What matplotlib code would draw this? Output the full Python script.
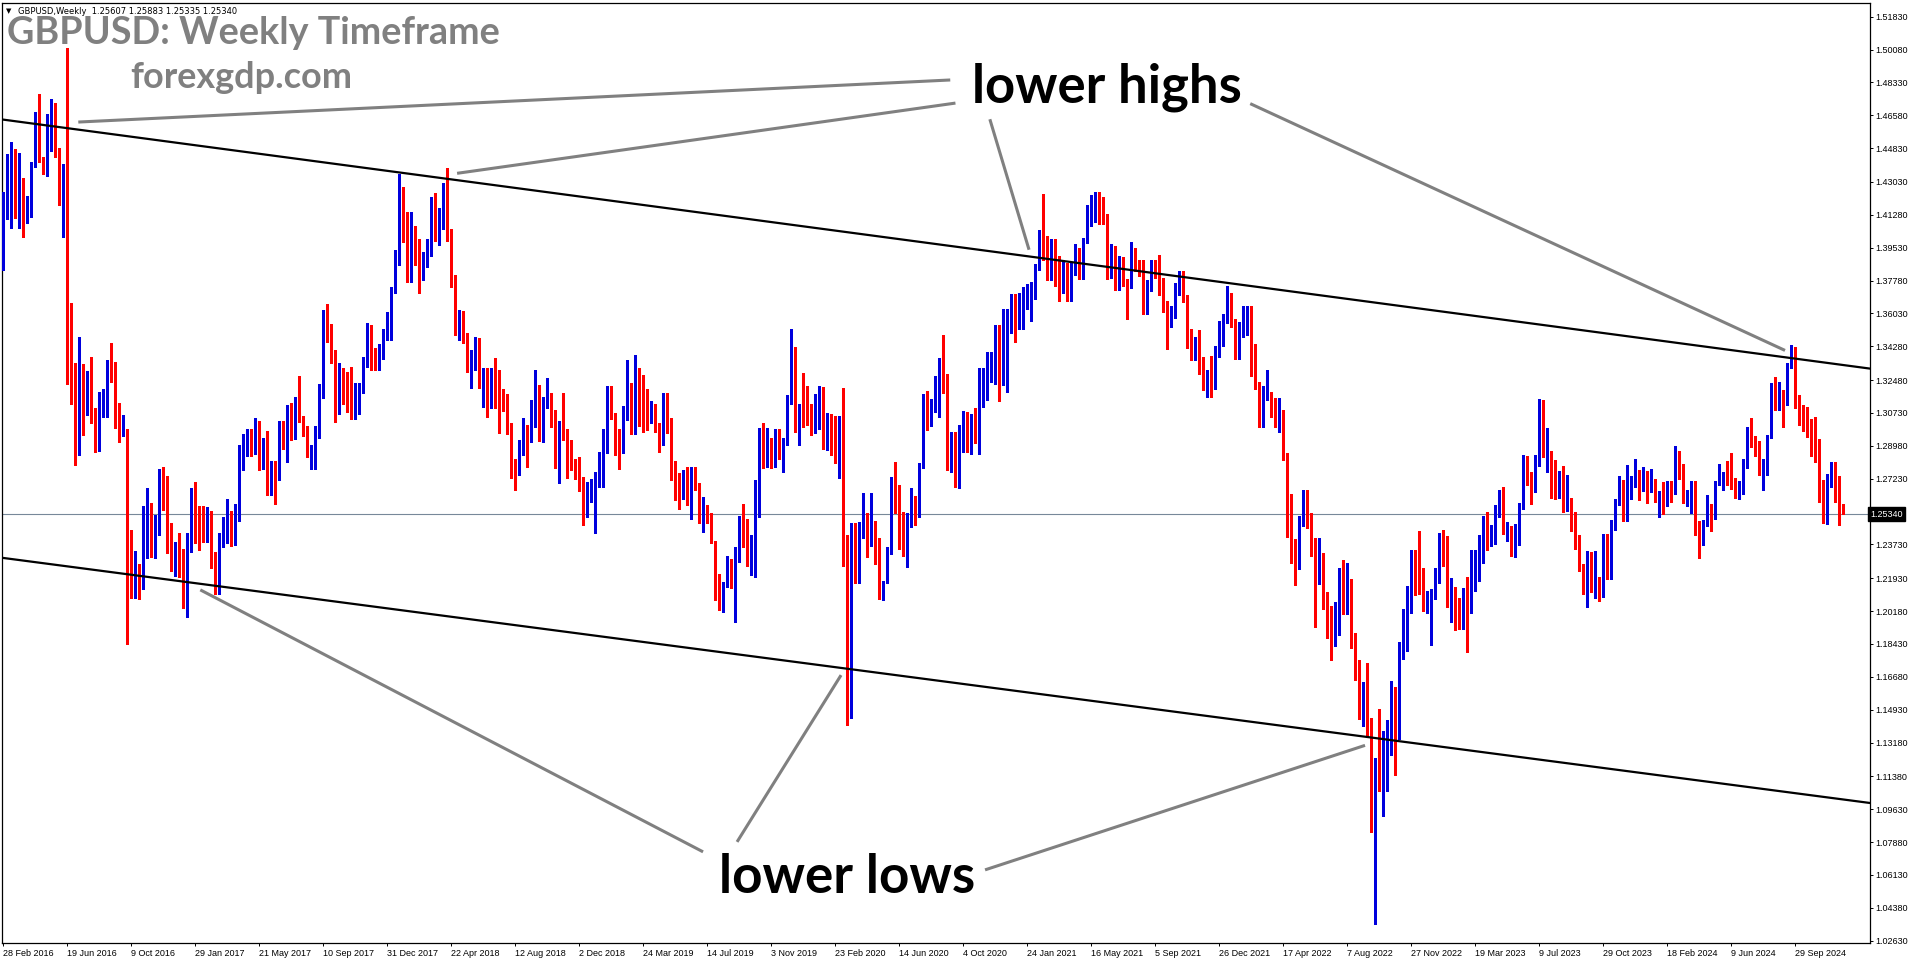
import matplotlib
matplotlib.use("Agg")
import matplotlib.pyplot as plt
import numpy as np

# ---- weekly GBPUSD candles, week of 28 Feb 2016 (index 0) to week of 22 Dec 2024 ----
first_open = 1.3875
closes = [
    1.4226, 1.4390, 1.4475, 1.4125, 1.4229, 1.4128, 1.4200, 1.4400, 1.4610, 1.4430, 1.4355, 1.4497, 1.4618, 1.4470, 1.4250, 1.4380,
    1.3660, 1.3270, 1.2940, 1.3185, 1.3107, 1.3225, 1.3062, 1.2920, 1.3080, 1.3125, 1.3288, 1.3260, 1.2997, 1.2965, 1.2985, 1.2425,
    1.2194, 1.2233, 1.2185, 1.2490, 1.2590, 1.2350, 1.2470, 1.2735, 1.2590, 1.2375, 1.2280, 1.2335, 1.2285, 1.2180, 1.2370, 1.2570,
    1.2490, 1.2480, 1.2410, 1.2550, 1.2290, 1.2195, 1.2395, 1.2475, 1.2550, 1.2405, 1.2535, 1.2800, 1.2950, 1.2965, 1.2885, 1.3030,
    1.2800, 1.2890, 1.2745, 1.2785, 1.2715, 1.3030, 1.2885, 1.3100, 1.3000, 1.3135, 1.3030, 1.3005, 1.2880, 1.2880, 1.2965, 1.3200,
    1.3590, 1.3500, 1.3399, 1.3071, 1.3290, 1.3190, 1.3130, 1.3071, 1.3195, 1.3221, 1.3337, 1.3479, 1.3385, 1.3340, 1.3363, 1.3505,
    1.3568, 1.3731, 1.3860, 1.4153, 1.4114, 1.3825, 1.4024, 1.3967, 1.3798, 1.3851, 1.3949, 1.4135, 1.4029, 1.4091, 1.4242, 1.4002,
    1.3781, 1.3532, 1.3541, 1.3470, 1.3301, 1.3355, 1.3408, 1.3213, 1.3266, 1.3204, 1.3284, 1.3239, 1.3133, 1.3106, 1.2999, 1.2769,
    1.2751, 1.2858, 1.2964, 1.2920, 1.3062, 1.3088, 1.3026, 1.3124, 1.3159, 1.3062, 1.2831, 1.2990, 1.2975, 1.2804, 1.2800, 1.2760,
    1.2733, 1.2582, 1.2640, 1.2698, 1.2725, 1.2840, 1.2875, 1.3204, 1.3075, 1.2937, 1.2884, 1.3062, 1.3213, 1.3018, 1.3301, 1.3210,
    1.3036, 1.3035, 1.3071, 1.2991, 1.2915, 1.3178, 1.3004, 1.2716, 1.2713, 1.2631, 1.2743, 1.2588, 1.2748, 1.2698, 1.2521, 1.2583,
    1.2503, 1.2382, 1.2157, 1.2027, 1.2152, 1.2294, 1.2166, 1.2290, 1.2507, 1.2471, 1.2294, 1.2338, 1.2654, 1.2968, 1.2787, 1.2938,
    1.2784, 1.2908, 1.2826, 1.2935, 1.3142, 1.3337, 1.2996, 1.3089, 1.3085, 1.3060, 1.3010, 1.3071, 1.3213, 1.2890, 1.3053, 1.2960,
    1.2814, 1.3053, 1.2272, 1.1643, 1.2459, 1.2240, 1.2450, 1.2500, 1.2365, 1.2500, 1.2400, 1.2099, 1.2170, 1.2347, 1.2677, 1.2539,
    1.2352, 1.2337, 1.2485, 1.2628, 1.2574, 1.2796, 1.3089, 1.3052, 1.3089, 1.3091, 1.3359, 1.3258, 1.2796, 1.2920, 1.2743, 1.2940,
    1.3053, 1.2911, 1.3048, 1.2947, 1.3151, 1.3199, 1.3293, 1.3305, 1.3440, 1.3222, 1.3523, 1.3536, 1.3662, 1.3565, 1.3589, 1.3683,
    1.3701, 1.3745, 1.3855, 1.3999, 1.3927, 1.3825, 1.3919, 1.3860, 1.3784, 1.3831, 1.3701, 1.3861, 1.3879, 1.3808, 1.3994, 1.4097,
    1.4154, 1.4193, 1.4153, 1.4104, 1.3793, 1.3884, 1.3838, 1.3902, 1.3763, 1.3745, 1.3902, 1.3873, 1.3866, 1.3625, 1.3763, 1.3855,
    1.3838, 1.3731, 1.3665, 1.3546, 1.3618, 1.3749, 1.3760, 1.3693, 1.3501, 1.3417, 1.3447, 1.3337, 1.3231, 1.3266, 1.3249, 1.3394,
    1.3547, 1.3594, 1.3683, 1.3554, 1.3394, 1.3529, 1.3559, 1.3598, 1.3408, 1.3231, 1.3039, 1.3181, 1.3186, 1.3115, 1.3039, 1.3065,
    1.2838, 1.2570, 1.2338, 1.2262, 1.2497, 1.2636, 1.2490, 1.2316, 1.2223, 1.2279, 1.2092, 1.2034, 1.1871, 1.2005, 1.2179, 1.2071,
    1.2142, 1.1832, 1.1740, 1.1512, 1.1593, 1.1425, 1.0849, 1.1165, 1.1100, 1.1175, 1.1300, 1.1614, 1.1375, 1.1838, 1.1881, 1.2093,
    1.2294, 1.2266, 1.2142, 1.2055, 1.2077, 1.2100, 1.2230, 1.2403, 1.2394, 1.2055, 1.2083, 1.2044, 1.1942, 1.2044, 1.2033, 1.2179,
    1.2229, 1.2327, 1.2418, 1.2413, 1.2440, 1.2570, 1.2636, 1.2446, 1.2446, 1.2344, 1.2451, 1.2583, 1.2827, 1.2718, 1.2696, 1.2844,
    1.3092, 1.2849, 1.2854, 1.2751, 1.2697, 1.2740, 1.2577, 1.2588, 1.2462, 1.2381, 1.2236, 1.2207, 1.2244, 1.2142, 1.2170, 1.2121,
    1.2379, 1.2228, 1.2468, 1.2610, 1.2716, 1.2530, 1.2677, 1.2702, 1.2730, 1.2716, 1.2755, 1.2702, 1.2708, 1.2636, 1.2638, 1.2601,
    1.2672, 1.2654, 1.2862, 1.2734, 1.2600, 1.2624, 1.2642, 1.2453, 1.2370, 1.2494, 1.2553, 1.2525, 1.2707, 1.2743, 1.2752, 1.2720,
    1.2685, 1.2637, 1.2645, 1.2819, 1.2991, 1.2915, 1.2867, 1.2745, 1.2765, 1.2950, 1.3221, 1.3128, 1.3137, 1.3125, 1.3323, 1.3364,
    1.3124, 1.3067, 1.3053, 1.2965, 1.2921, 1.2915, 1.2618, 1.2530, 1.2737, 1.2748, 1.2620, 1.2566, 1.25340,
]
highs = [
    1.4250, 1.4450, 1.4515, 1.4476, 1.4458, 1.4324, 1.4230, 1.4410, 1.4676, 1.4771, 1.4438, 1.4667, 1.4743, 1.4724, 1.4486, 1.4400,
    1.5018, 1.3535, 1.3340, 1.3480, 1.3335, 1.3297, 1.3372, 1.3098, 1.3185, 1.3200, 1.3355, 1.3445, 1.3345, 1.3126, 1.3060, 1.2946,
    1.2452, 1.2337, 1.2270, 1.2575, 1.2674, 1.2594, 1.2527, 1.2775, 1.2784, 1.2737, 1.2489, 1.2385, 1.2432, 1.2348, 1.2433, 1.2675,
    1.2705, 1.2580, 1.2580, 1.2570, 1.2550, 1.2330, 1.2432, 1.2520, 1.2615, 1.2545, 1.2590, 1.2905, 1.2960, 1.2990, 1.2990, 1.3048,
    1.3030, 1.2940, 1.2975, 1.2815, 1.2815, 1.3030, 1.3030, 1.3115, 1.3125, 1.3160, 1.3270, 1.3055, 1.3000, 1.2905, 1.3005, 1.3225,
    1.3620, 1.3655, 1.3545, 1.3408, 1.3340, 1.3310, 1.3290, 1.3320, 1.3230, 1.3230, 1.3372, 1.3550, 1.3541, 1.3420, 1.3440, 1.3520,
    1.3612, 1.3745, 1.3940, 1.4345, 1.4277, 1.4144, 1.4144, 1.4070, 1.4000, 1.3930, 1.4000, 1.4224, 1.4245, 1.4165, 1.4299, 1.4377,
    1.4050, 1.3805, 1.3621, 1.3615, 1.3500, 1.3410, 1.3479, 1.3470, 1.3310, 1.3310, 1.3315, 1.3363, 1.3300, 1.3200, 1.3175, 1.3020,
    1.2830, 1.2930, 1.3044, 1.3010, 1.3140, 1.3301, 1.3220, 1.3160, 1.3257, 1.3180, 1.3090, 1.3030, 1.3177, 1.2990, 1.2930, 1.2830,
    1.2840, 1.2730, 1.2705, 1.2720, 1.2760, 1.2865, 1.2990, 1.3217, 1.3215, 1.3075, 1.2990, 1.3110, 1.3355, 1.3230, 1.3380, 1.3310,
    1.3275, 1.3199, 1.3138, 1.3121, 1.3021, 1.3180, 1.3174, 1.3044, 1.2819, 1.2755, 1.2769, 1.2784, 1.2787, 1.2787, 1.2700, 1.2624,
    1.2578, 1.2538, 1.2393, 1.2216, 1.2175, 1.2311, 1.2290, 1.2361, 1.2525, 1.2588, 1.2507, 1.2423, 1.2716, 1.2991, 1.3018, 1.2991,
    1.2938, 1.2986, 1.2986, 1.2938, 1.3168, 1.3520, 1.3426, 1.3121, 1.3285, 1.3217, 1.3121, 1.3174, 1.3215, 1.3210, 1.3071, 1.3070,
    1.3057, 1.3055, 1.3205, 1.2423, 1.2486, 1.2486, 1.2490, 1.2649, 1.2539, 1.2649, 1.2500, 1.2405, 1.2180, 1.2360, 1.2734, 1.2813,
    1.2689, 1.2548, 1.2539, 1.2672, 1.2631, 1.2805, 1.3174, 1.3192, 1.3145, 1.3270, 1.3365, 1.3488, 1.3280, 1.2974, 1.2974, 1.3010,
    1.3085, 1.3080, 1.3065, 1.3100, 1.3315, 1.3313, 1.3400, 1.3395, 1.3540, 1.3540, 1.3625, 1.3625, 1.3705, 1.3705, 1.3710, 1.3745,
    1.3760, 1.3770, 1.3865, 1.4047, 1.4239, 1.4015, 1.4000, 1.4000, 1.3910, 1.3890, 1.3870, 1.3870, 1.3975, 1.3950, 1.4005, 1.4180,
    1.4235, 1.4249, 1.4250, 1.4225, 1.4135, 1.3975, 1.3960, 1.3910, 1.3905, 1.3785, 1.3985, 1.3950, 1.3890, 1.3890, 1.3780, 1.3890,
    1.3890, 1.3915, 1.3790, 1.3670, 1.3640, 1.3765, 1.3830, 1.3830, 1.3700, 1.3520, 1.3480, 1.3515, 1.3370, 1.3300, 1.3375, 1.3430,
    1.3560, 1.3600, 1.3749, 1.3710, 1.3575, 1.3555, 1.3640, 1.3645, 1.3640, 1.3440, 1.3240, 1.3215, 1.3300, 1.3185, 1.3150, 1.3150,
    1.3090, 1.2860, 1.2640, 1.2400, 1.2525, 1.2665, 1.2665, 1.2540, 1.2405, 1.2405, 1.2325, 1.2120, 1.2045, 1.2065, 1.2245, 1.2290,
    1.2275, 1.2190, 1.1900, 1.1760, 1.1640, 1.1740, 1.1450, 1.1235, 1.1495, 1.1380, 1.1440, 1.1645, 1.1565, 1.1855, 1.2030, 1.2150,
    1.2345, 1.2345, 1.2445, 1.2245, 1.2125, 1.2135, 1.2250, 1.2435, 1.2450, 1.2420, 1.2195, 1.2145, 1.2085, 1.2140, 1.2200, 1.2345,
    1.2345, 1.2425, 1.2525, 1.2545, 1.2475, 1.2585, 1.2665, 1.2680, 1.2490, 1.2470, 1.2480, 1.2595, 1.2850, 1.2845, 1.2760, 1.2850,
    1.3145, 1.3140, 1.2995, 1.2870, 1.2820, 1.2765, 1.2790, 1.2745, 1.2620, 1.2545, 1.2425, 1.2270, 1.2340, 1.2335, 1.2340, 1.2200,
    1.2430, 1.2430, 1.2505, 1.2615, 1.2735, 1.2710, 1.2795, 1.2735, 1.2828, 1.2770, 1.2785, 1.2765, 1.2775, 1.2720, 1.2660, 1.2705,
    1.2710, 1.2710, 1.2895, 1.2870, 1.2800, 1.2665, 1.2710, 1.2710, 1.2500, 1.2505, 1.2635, 1.2590, 1.2710, 1.2800, 1.2760, 1.2815,
    1.2860, 1.2725, 1.2710, 1.2830, 1.3000, 1.3045, 1.2950, 1.2925, 1.2830, 1.2955, 1.3230, 1.3265, 1.3240, 1.3195, 1.3340, 1.3434,
    1.3423, 1.3170, 1.3115, 1.3105, 1.3040, 1.3050, 1.2935, 1.2715, 1.2750, 1.2812, 1.2810, 1.2735, 1.25883,
]
lows = [
    1.3836, 1.4105, 1.4058, 1.4110, 1.4058, 1.4011, 1.4087, 1.4115, 1.4381, 1.4410, 1.4343, 1.4334, 1.4467, 1.4438, 1.4182, 1.4011,
    1.3229, 1.3120, 1.2798, 1.2850, 1.2955, 1.3060, 1.3020, 1.2866, 1.2870, 1.3050, 1.3050, 1.3240, 1.2993, 1.2917, 1.2950, 1.1841,
    1.2085, 1.2090, 1.2080, 1.2137, 1.2300, 1.2308, 1.2300, 1.2423, 1.2556, 1.2327, 1.2233, 1.2204, 1.2200, 1.2035, 1.1986, 1.2330,
    1.2380, 1.2345, 1.2385, 1.2385, 1.2250, 1.2110, 1.2110, 1.2360, 1.2380, 1.2365, 1.2370, 1.2500, 1.2770, 1.2845, 1.2845, 1.2855,
    1.2770, 1.2775, 1.2635, 1.2635, 1.2590, 1.2730, 1.2880, 1.2810, 1.2930, 1.2935, 1.3025, 1.2950, 1.2840, 1.2775, 1.2775, 1.2940,
    1.3155, 1.3450, 1.3340, 1.3026, 1.3070, 1.3120, 1.3080, 1.3040, 1.3040, 1.3065, 1.3180, 1.3320, 1.3300, 1.3300, 1.3301, 1.3360,
    1.3460, 1.3460, 1.3710, 1.3860, 1.3985, 1.3772, 1.3770, 1.3860, 1.3712, 1.3780, 1.3900, 1.3910, 1.3990, 1.3965, 1.4050, 1.3990,
    1.3745, 1.3488, 1.3461, 1.3445, 1.3293, 1.3204, 1.3300, 1.3205, 1.3106, 1.3053, 1.3100, 1.3100, 1.2964, 1.3085, 1.2960, 1.2725,
    1.2662, 1.2740, 1.2850, 1.2785, 1.2920, 1.3000, 1.2925, 1.2920, 1.3100, 1.3000, 1.2778, 1.2698, 1.2930, 1.2725, 1.2770, 1.2720,
    1.2660, 1.2476, 1.2520, 1.2600, 1.2432, 1.2680, 1.2680, 1.2860, 1.3040, 1.2850, 1.2772, 1.2860, 1.3035, 1.2960, 1.2960, 1.3005,
    1.2973, 1.2982, 1.3018, 1.2973, 1.2867, 1.2902, 1.2968, 1.2716, 1.2610, 1.2560, 1.2613, 1.2583, 1.2507, 1.2663, 1.2485, 1.2441,
    1.2485, 1.2382, 1.2077, 1.2024, 1.2015, 1.2145, 1.2139, 1.1962, 1.2280, 1.2358, 1.2258, 1.2210, 1.2201, 1.2521, 1.2778, 1.2796,
    1.2778, 1.2787, 1.2826, 1.2760, 1.2902, 1.3121, 1.2973, 1.2902, 1.3000, 1.3009, 1.2956, 1.2964, 1.2985, 1.2880, 1.2876, 1.2850,
    1.2805, 1.2725, 1.2260, 1.1411, 1.1447, 1.2166, 1.2166, 1.2405, 1.2308, 1.2365, 1.2269, 1.2081, 1.2075, 1.2166, 1.2322, 1.2541,
    1.2347, 1.2311, 1.2254, 1.2464, 1.2477, 1.2521, 1.2778, 1.2982, 1.3004, 1.3080, 1.3053, 1.3177, 1.2769, 1.2760, 1.2680, 1.2675,
    1.2865, 1.2865, 1.2855, 1.2915, 1.2855, 1.3105, 1.3140, 1.3240, 1.3225, 1.3135, 1.3280, 1.3186, 1.3500, 1.3450, 1.3520, 1.3520,
    1.3625, 1.3565, 1.3680, 1.3835, 1.3890, 1.3780, 1.3780, 1.3750, 1.3670, 1.3710, 1.3670, 1.3670, 1.3810, 1.3785, 1.3785, 1.3980,
    1.4070, 1.4090, 1.4080, 1.4080, 1.3785, 1.3790, 1.3730, 1.3730, 1.3750, 1.3572, 1.3740, 1.3830, 1.3800, 1.3600, 1.3600, 1.3720,
    1.3790, 1.3700, 1.3610, 1.3412, 1.3530, 1.3580, 1.3700, 1.3665, 1.3420, 1.3355, 1.3355, 1.3280, 1.3195, 1.3160, 1.3160, 1.3200,
    1.3370, 1.3430, 1.3550, 1.3530, 1.3360, 1.3360, 1.3480, 1.3490, 1.3270, 1.3200, 1.3000, 1.3000, 1.3140, 1.3050, 1.3000, 1.2970,
    1.2820, 1.2410, 1.2275, 1.2155, 1.2240, 1.2470, 1.2460, 1.2310, 1.1934, 1.2160, 1.2030, 1.1875, 1.1760, 1.1830, 1.1890, 1.2005,
    1.2005, 1.1820, 1.1650, 1.1445, 1.1405, 1.1350, 1.0840, 1.0350, 1.1060, 1.0925, 1.1060, 1.1250, 1.1145, 1.1335, 1.1765, 1.1805,
    1.2010, 1.2105, 1.2110, 1.2020, 1.2010, 1.1840, 1.2080, 1.2170, 1.2260, 1.2040, 1.1960, 1.1915, 1.1925, 1.1920, 1.1800, 1.2010,
    1.2125, 1.2180, 1.2275, 1.2345, 1.2365, 1.2375, 1.2520, 1.2430, 1.2390, 1.2310, 1.2305, 1.2370, 1.2560, 1.2690, 1.2590, 1.2650,
    1.2790, 1.2840, 1.2760, 1.2620, 1.2615, 1.2620, 1.2545, 1.2550, 1.2445, 1.2350, 1.2230, 1.2110, 1.2040, 1.2120, 1.2090, 1.2070,
    1.2095, 1.2190, 1.2190, 1.2450, 1.2585, 1.2500, 1.2500, 1.2615, 1.2680, 1.2610, 1.2660, 1.2595, 1.2650, 1.2600, 1.2520, 1.2535,
    1.2580, 1.2600, 1.2640, 1.2720, 1.2595, 1.2580, 1.2540, 1.2425, 1.2300, 1.2370, 1.2470, 1.2445, 1.2510, 1.2690, 1.2665, 1.2690,
    1.2670, 1.2620, 1.2615, 1.2640, 1.2780, 1.2890, 1.2845, 1.2740, 1.2665, 1.2740, 1.2940, 1.3090, 1.3090, 1.3000, 1.3115, 1.3310,
    1.3100, 1.3010, 1.2975, 1.2945, 1.2845, 1.2810, 1.2600, 1.2485, 1.2480, 1.2680, 1.2600, 1.2475, 1.25335,
]
last_open = 1.25607
last_price = 1.25340

# date labels every 16 weeks (bar index 0, 16, 32, ...)
date_labels = [
    "28 Feb 2016", "19 Jun 2016", "9 Oct 2016", "29 Jan 2017", "21 May 2017", "10 Sep 2017",
    "31 Dec 2017", "22 Apr 2018", "12 Aug 2018", "2 Dec 2018", "24 Mar 2019", "14 Jul 2019",
    "3 Nov 2019", "23 Feb 2020", "14 Jun 2020", "4 Oct 2020", "24 Jan 2021", "16 May 2021",
    "5 Sep 2021", "26 Dec 2021", "17 Apr 2022", "7 Aug 2022", "27 Nov 2022", "19 Mar 2023",
    "9 Jul 2023", "29 Oct 2023", "18 Feb 2024", "9 Jun 2024", "29 Sep 2024",
]
price_ticks = [1.51830, 1.50080, 1.48330, 1.46580, 1.44830, 1.43030, 1.41280, 1.39530, 1.37780,
               1.36030, 1.34280, 1.32480, 1.30730, 1.28980, 1.27230, 1.23730, 1.21930, 1.20180,
               1.18430, 1.16680, 1.14930, 1.13180, 1.11380, 1.09630, 1.07880, 1.06130, 1.04380, 1.02630]

# channel lines (bar index, price)
upper_channel = [(-0.8, 1.4637), (466.7, 1.3309)]
lower_channel = [(-0.8, 1.2303), (466.7, 1.0996)]

# grey pointer lines: (start, end) in (bar index, price)
highs_pointers = [
    [(236.7, 1.4846), (18.7, 1.4622)],
    [(238.0, 1.4723), (113.4, 1.4349)],
    [(246.6, 1.4637), (256.4, 1.3942)],
    [(311.7, 1.4720), (445.4, 1.3406)],
]
lows_pointers = [
    [(174.9, 1.0736), (49.2, 1.2131)],
    [(183.4, 1.0789), (209.4, 1.1677)],
    [(245.4, 1.0640), (340.4, 1.1303)],
]

W, H = 1916, 964
BLUE, RED, GREY = "#0000dd", "#ff0000", "#808080"

fig = plt.figure(figsize=(W / 100, H / 100), dpi=100)
ax = fig.add_axes([1.7 / W, 1 - 943 / H, (1870 - 1.7) / W, (943 - 2.7) / H])

c = np.array(closes)
hi = np.array(highs)
lo = np.array(lows)
o = np.r_[first_open, c[:-1]]
o[-1] = last_open
x = np.arange(len(c))
up = c >= o
cols = np.where(up, BLUE, RED)
hi = np.maximum(hi, np.maximum(o, c))
lo = np.minimum(lo, np.minimum(o, c))

ax.vlines(x, lo, hi, colors=cols, linewidth=0.75, antialiased=False, zorder=3)
body_h = np.maximum(np.abs(c - o), 0.0005)
ax.bar(x, body_h, bottom=np.minimum(o, c), width=0.76, color=cols, linewidth=0,
       antialiased=False, zorder=4)

ax.axhline(last_price, color="#778899", linewidth=0.8, zorder=2)

for line in (upper_channel, lower_channel):
    xs, ys = zip(*line)
    ax.plot(xs, ys, color="black", linewidth=1.6, zorder=5)
for seg in highs_pointers + lows_pointers:
    xs, ys = zip(*seg)
    ax.plot(xs, ys, color=GREY, linewidth=2.2, solid_capstyle="butt", zorder=6)

ax.set_xlim(-0.45, 466.65)
ax.set_ylim(1.02506, 1.52575)

ax.set_xticks(np.arange(len(date_labels)) * 16)
ax.set_xticklabels(date_labels, ha="left", fontsize=6.5, family="Liberation Sans")
ax.yaxis.tick_right()
ax.set_yticks(price_ticks)
ax.set_yticklabels([f"{v:.5f}" for v in price_ticks], fontsize=6.5, family="Liberation Sans")
ax.tick_params(axis="both", length=2.5, width=0.7, pad=1.5)
ax.tick_params(axis="x", pad=2)
for s in ax.spines.values():
    s.set_linewidth(0.9)

ax.text(1.0, last_price, f"{last_price:.5f}", transform=ax.get_yaxis_transform(),
        ha="left", va="center", fontsize=6.5, family="Liberation Sans", color="white",
        bbox=dict(boxstyle="square,pad=0.25", fc="black", ec="black"), zorder=10,
        clip_on=False)

# texts on the chart
def fig_px(px, py):
    return px / W, 1 - py / H

renderer = fig.canvas.get_renderer()

def fit(t, width_px):
    bb = t.get_window_extent(renderer)
    t.set_fontsize(t.get_fontsize() * width_px / bb.width)

hdr = fig.text(*fig_px(18, 14.5), "GBPUSD,Weekly  1.25607 1.25883 1.25335 1.25340",
               fontsize=7, family="DejaVu Sans", va="baseline")
fit(hdr, 220)
fig.text(*fig_px(6, 13), "\u25bc", fontsize=5, va="baseline")

title = fig.text(*fig_px(7, 44.5), "GBPUSD: Weekly Timeframe", fontsize=26,
                 family="Lato", fontweight="bold", color=GREY, va="baseline")
fit(title, 493)
site = fig.text(*fig_px(130, 87.5), "forexgdp.com", fontsize=20,
                family="Lato", fontweight="bold", color=GREY, va="baseline")
fit(site, 222)

lh = fig.text(*fig_px(972, 102), "lower highs", fontsize=36, family="Lato",
              fontweight="bold", color="black", va="baseline")
fit(lh, 269)
ll = fig.text(*fig_px(719, 893), "lower lows", fontsize=36, family="Lato",
              fontweight="bold", color="black", va="baseline")
fit(ll, 256)

fig.savefig("out.png", dpi=100)
